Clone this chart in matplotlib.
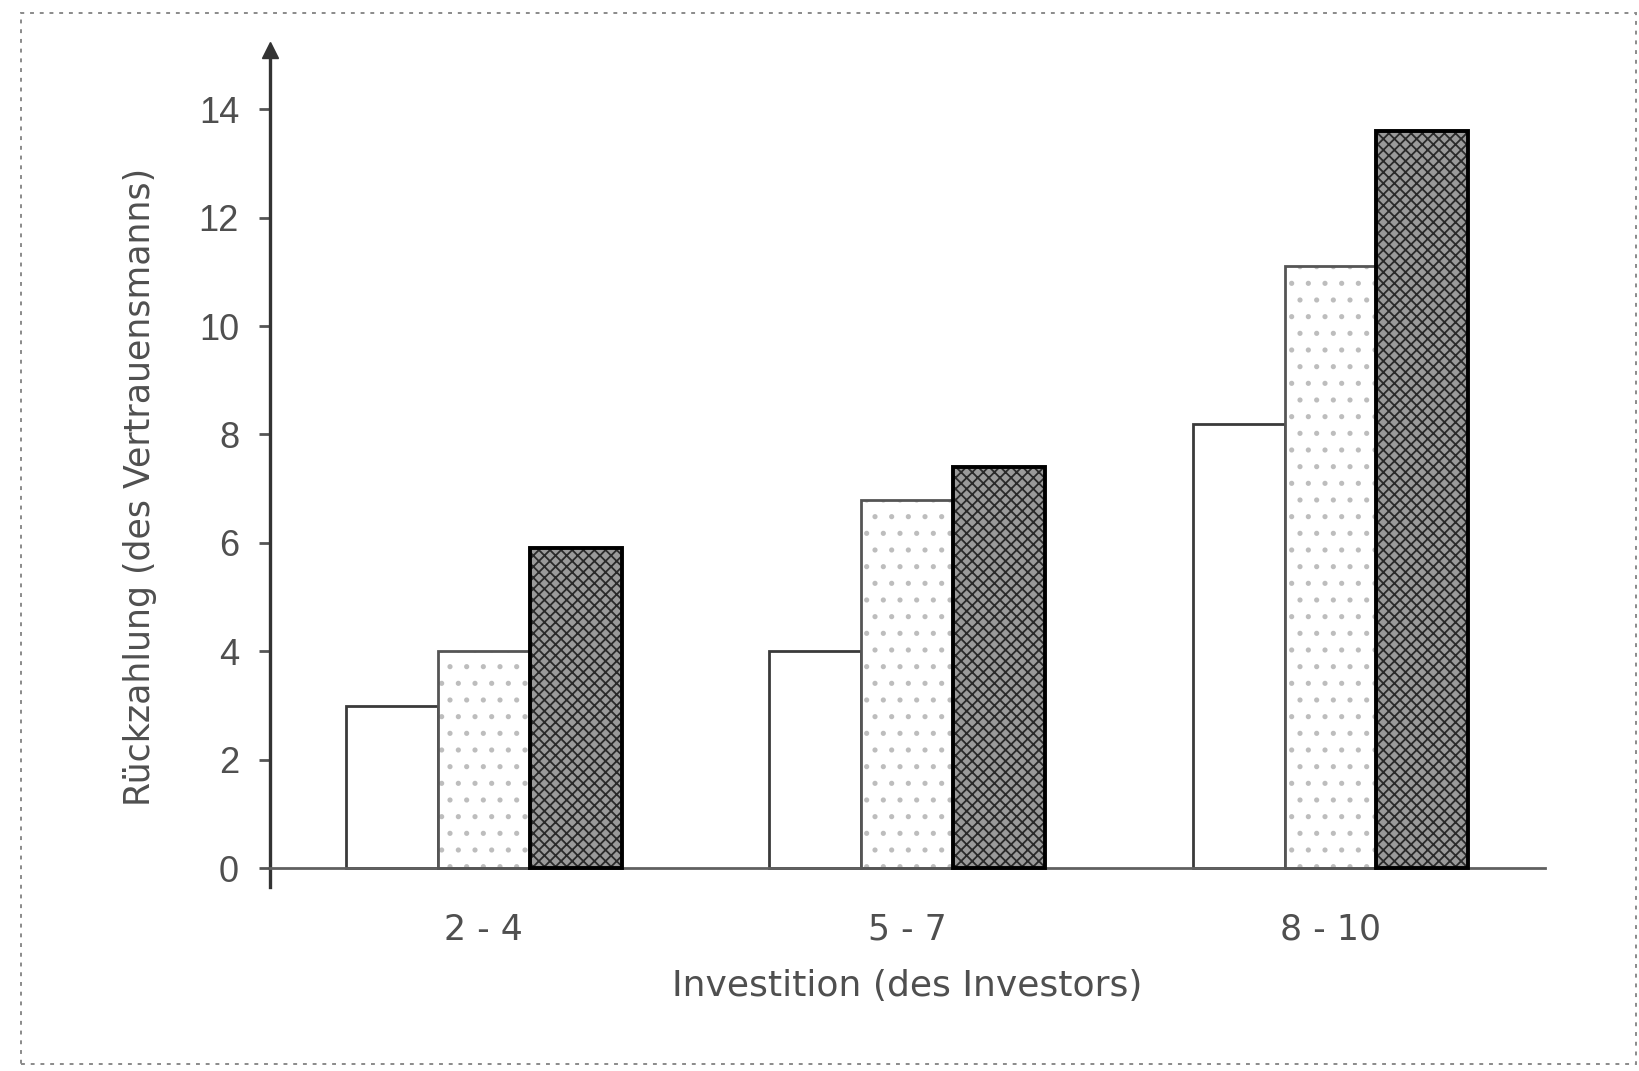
"""
Rückzahlung je Investitionsstufe, drei Bedingungen als Balken
"""

import matplotlib.pyplot as plt, matplotlib as mpl
import numpy as np
from matplotlib.patches import Rectangle

# Daten
gruppen = ["2 - 4", "5 - 7", "8 - 10"]
bed_weiss = [3.0, 4.0, 8.2]
bed_punkte = [4.0, 6.8, 11.1]
bed_dunkel = [5.9, 7.4, 13.6]
yticks = [0, 2, 4, 6, 8, 10, 12, 14]

plt.rcParams['font.family'] = ['Liberation Sans', 'DejaVu Sans']
plt.rcParams['hatch.linewidth'] = 1.3

fig = plt.figure(figsize=(16.39, 10.71), dpi=100)
ax = fig.add_axes([0.1645, 0.1717, 0.778, 0.782])

x = np.arange(len(gruppen))
w = 0.217
txt = '#4f4f4f'
fs = 26
breit = ['DejaVu Sans']  # die Beschriftung im Scan läuft breiter

# weiße Balken
ax.bar(x - w, bed_weiss, w, color='white', edgecolor='#3a3a3a', linewidth=2.0, zorder=2)
# gepunktete Balken: erst Muster, dann Rand
ax.bar(x, bed_punkte, w, color='white', edgecolor='#bdbdbd', hatch='.', linewidth=0, zorder=2)
ax.bar(x, bed_punkte, w, fill=False, edgecolor='#555555', linewidth=2.0, zorder=3)
# dunkle Balken
ax.bar(x + w, bed_dunkel, w, color='#9a9a9a', edgecolor='#2a2a2a', hatch='xxx', linewidth=0, zorder=2)
ax.bar(x + w, bed_dunkel, w, fill=False, edgecolor='black', linewidth=2.8, zorder=3)

ax.set_xlim(-0.506, 2.506)
ax.set_ylim(-0.35, 15.1)

for s in ['top', 'right']:
    ax.spines[s].set_visible(False)
ax.spines['bottom'].set_position(('data', 0))
ax.spines['bottom'].set_color('#606060')
ax.spines['bottom'].set_linewidth(2.0)
ax.spines['left'].set_color('#333333')
ax.spines['left'].set_linewidth(2.4)
# Pfeil oben an der y-Achse
ax.plot([-0.506], [15.1], marker='^', markersize=12, color='#333333', clip_on=False, zorder=5)

ax.set_yticks(yticks)
ax.set_yticklabels([str(t) for t in yticks], fontsize=fs, color=txt)
ax.tick_params(axis='y', direction='out', length=8, width=2.0, color='#555555', pad=14)
ax.set_xticks(x)
ax.set_xticklabels(gruppen, fontsize=25, color=txt, family=breit)
ax.tick_params(axis='x', length=0, pad=32)

ax.set_xlabel("Investition (des Investors)", fontsize=26, color=txt, labelpad=16, family=breit)
ax.set_ylabel("Rückzahlung (des Vertrauensmanns)", fontsize=25, color=txt, family=breit)
ax.yaxis.set_label_coords(-0.088, 0.478)

# gestrichelter Rahmen des Scans
fig.patches.append(Rectangle((0.013, 0.007), 0.985, 0.981, transform=fig.transFigure,
                             fill=False, edgecolor='#8a8a8a', linestyle=(0, (2, 3)), linewidth=1.4))

fig.savefig("out.png", dpi=100)
